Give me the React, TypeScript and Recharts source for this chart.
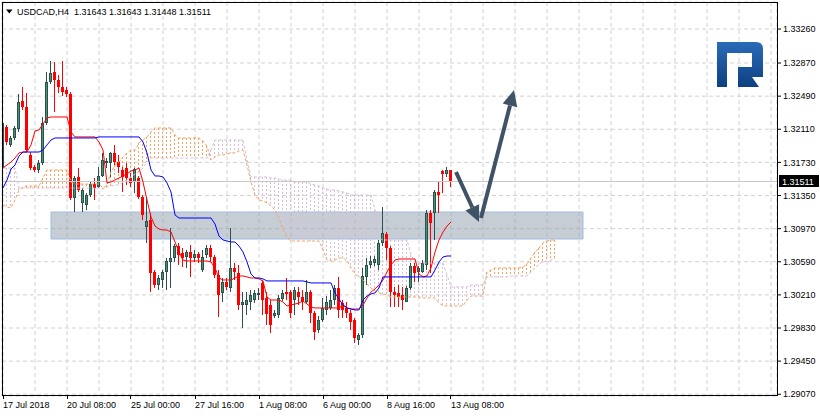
import React from "react";
import {
  ComposedChart,
  Bar,
  Line,
  XAxis,
  YAxis,
  CartesianGrid,
  ReferenceArea,
  ReferenceLine,
} from "recharts";

const symbol = "USDCAD,H4";

// bottom axis: one label every 16 H4 bars
const timeLabels = [
  "17 Jul 2018",
  "20 Jul 08:00",
  "25 Jul 00:00",
  "27 Jul 16:00",
  "1 Aug 08:00",
  "6 Aug 00:00",
  "8 Aug 16:00",
  "13 Aug 08:00",
];
const labelBars = [0, 16, 32, 48, 64, 80, 96, 112];

const priceTicks = [
  1.2907, 1.2945, 1.2983, 1.3021, 1.3059, 1.3097, 1.3135, 1.3173, 1.3211, 1.3249, 1.3287, 1.3326,
];

const open = [
  1.31665, 1.32136, 1.3193, 1.3201, 1.32113, 1.32435, 1.32366, 1.31815, 1.31677, 1.31643,
  1.31723, 1.32182, 1.32652, 1.32767, 1.32675, 1.32595, 1.32561, 1.32515, 1.31321, 1.31563,
  1.31265, 1.31242, 1.31356, 1.31482, 1.31448, 1.31574, 1.31723, 1.31723, 1.31838, 1.31734,
  1.31643, 1.31665, 1.31551, 1.31505, 1.31551, 1.31333, 1.30989, 1.31069, 1.30473, 1.30324,
  1.30381, 1.30473, 1.30587, 1.30633, 1.3077, 1.30691, 1.30645, 1.30702, 1.30633, 1.30679,
  1.30496, 1.30668, 1.30748, 1.30645, 1.30439, 1.30232, 1.30358, 1.30289, 1.30519, 1.30462,
  1.30094, 1.30094, 1.30128, 1.30151, 1.30209, 1.30347, 1.30174, 1.30094, 1.29968, 1.2998,
  1.30163, 1.30243, 1.30243, 1.30151, 1.30243, 1.30186, 1.30128, 1.30243, 1.30003, 1.29807,
  1.29922, 1.30037, 1.3006, 1.30151, 1.30289, 1.30117, 1.3006, 1.30003, 1.29922, 1.29693,
  1.2975, 1.30416, 1.30553, 1.30576, 1.30553, 1.30806, 1.30908, 1.30748, 1.30243, 1.30232,
  1.30209, 1.30128, 1.30289, 1.30542, 1.30473, 1.30473, 1.30553, 1.3115, 1.3115, 1.3139,
  1.31632, 1.31597, 1.31643,
];
const high = [
  1.32239, 1.32159, 1.32033, 1.32147, 1.32515, 1.32595, 1.32527, 1.31849, 1.317, 1.31757,
  1.32251, 1.32767, 1.32894, 1.32882, 1.32733, 1.32894, 1.32595, 1.32538, 1.31574, 1.31665,
  1.31436, 1.31379, 1.31517, 1.31551, 1.31677, 1.31838, 1.3178, 1.31849, 1.3193, 1.31815,
  1.31677, 1.31723, 1.31609, 1.31665, 1.31574, 1.31356, 1.31333, 1.3115, 1.30496, 1.30439,
  1.30496, 1.30633, 1.30977, 1.30794, 1.30806, 1.30748, 1.30725, 1.30783, 1.30725, 1.30702,
  1.30725, 1.30783, 1.30783, 1.30668, 1.30496, 1.30404, 1.30404, 1.30977, 1.30576, 1.30553,
  1.30243, 1.30243, 1.30266, 1.30266, 1.30289, 1.30381, 1.30243, 1.30151, 1.30037, 1.30209,
  1.30266, 1.30404, 1.30266, 1.30301, 1.30301, 1.30266, 1.30381, 1.30266, 1.30026, 1.29968,
  1.30174, 1.30197, 1.30266, 1.30324, 1.30416, 1.30151, 1.30128, 1.30037, 1.29945, 1.29773,
  1.30519, 1.30633, 1.30656, 1.30656, 1.3084, 1.31219, 1.30931, 1.3077, 1.30301, 1.30324,
  1.30301, 1.30312, 1.30576, 1.30576, 1.30542, 1.3061, 1.31184, 1.31184, 1.31413, 1.31505,
  1.31643, 1.31677, 1.31643,
];
const low = [
  1.3162, 1.3193, 1.31907, 1.31987, 1.32079, 1.32331, 1.31849, 1.31643, 1.3162, 1.31609,
  1.317, 1.32159, 1.32629, 1.32308, 1.32527, 1.32492, 1.3248, 1.31299, 1.31161, 1.3139,
  1.31161, 1.31184, 1.31333, 1.31299, 1.31436, 1.31563, 1.31665, 1.31563, 1.317, 1.31609,
  1.3139, 1.31471, 1.31448, 1.31379, 1.3131, 1.31069, 1.30806, 1.30243, 1.30289, 1.30266,
  1.30289, 1.30266, 1.30289, 1.30587, 1.30553, 1.3053, 1.30519, 1.30416, 1.30587, 1.30576,
  1.30473, 1.30633, 1.30587, 1.30404, 1.29957, 1.30128, 1.30266, 1.30243, 1.30381, 1.30037,
  1.2983, 1.2998, 1.30037, 1.30117, 1.30151, 1.2998, 1.29864, 1.29773, 1.29945, 1.29945,
  1.3014, 1.30151, 1.29945, 1.2998, 1.30094, 1.30037, 1.30105, 1.29887, 1.29693, 1.29773,
  1.29899, 1.2998, 1.30037, 1.30094, 1.29945, 1.29945, 1.29945, 1.29807, 1.29658, 1.29635,
  1.29716, 1.30324, 1.30519, 1.30542, 1.30496, 1.3077, 1.3061, 1.30071, 1.30071, 1.30071,
  1.30037, 1.30128, 1.30266, 1.30358, 1.30358, 1.30462, 1.30496, 1.30462, 1.3084, 1.3115,
  1.31379, 1.31563, 1.31448,
];
const close = [
  1.32182, 1.31964, 1.3201, 1.32124, 1.32423, 1.32366, 1.31872, 1.31665, 1.31643, 1.31723,
  1.32182, 1.32652, 1.32756, 1.32675, 1.32595, 1.32538, 1.32515, 1.31321, 1.31551, 1.31413,
  1.31413, 1.31356, 1.31482, 1.31436, 1.31574, 1.31757, 1.31746, 1.31838, 1.31734, 1.31677,
  1.31563, 1.31551, 1.31494, 1.31654, 1.31333, 1.31127, 1.31058, 1.30462, 1.30324, 1.30404,
  1.30473, 1.30599, 1.30633, 1.3077, 1.30668, 1.30633, 1.30702, 1.30633, 1.30679, 1.30633,
  1.30645, 1.30748, 1.30645, 1.30439, 1.30209, 1.30358, 1.30301, 1.30519, 1.30473, 1.30094,
  1.30128, 1.30151, 1.30209, 1.30232, 1.30232, 1.30151, 1.29991, 1.29864, 1.30003, 1.30174,
  1.30232, 1.3022, 1.30003, 1.30266, 1.30186, 1.30128, 1.30243, 1.30003, 1.29784, 1.29922,
  1.3006, 1.30128, 1.30151, 1.30289, 1.30037, 1.30037, 1.30003, 1.29899, 1.29716, 1.2975,
  1.30427, 1.30553, 1.30599, 1.30622, 1.30806, 1.3092, 1.30748, 1.30243, 1.30209, 1.30186,
  1.30151, 1.30289, 1.30542, 1.30462, 1.30519, 1.30576, 1.3115, 1.31035, 1.3139, 1.31356,
  1.31597, 1.31643, 1.31511,
];

// Ichimoku: tenkan (red), kijun (blue)
const tenkan = [
  1.31665, 1.317, 1.31734, 1.3178, 1.31838, 1.31849, 1.31849, 1.3193, 1.3209, 1.32102,
  1.3217, 1.32239, 1.32251, 1.32251, 1.32251, 1.32251, 1.32251, 1.32079, 1.32022, 1.32022,
  1.32022, 1.32022, 1.32022, 1.32022, 1.31964, 1.31872, 1.31494, 1.31505, 1.31528, 1.31551,
  1.31574, 1.31597, 1.31632, 1.31643, 1.31665, 1.31505, 1.31299, 1.31104, 1.31, 1.30966,
  1.30954, 1.30954, 1.30931, 1.30817, 1.30702, 1.3061, 1.30599, 1.30599, 1.30599, 1.30599,
  1.30599, 1.30599, 1.30587, 1.30519, 1.30404, 1.30381, 1.30381, 1.30381, 1.30404, 1.30427,
  1.30427, 1.30416, 1.30404, 1.30404, 1.30393, 1.3037, 1.30186, 1.30151, 1.30151, 1.30151,
  1.30128, 1.30083, 1.30094, 1.30105, 1.30117, 1.3014, 1.30105, 1.30071, 1.3006, 1.3006,
  1.3006, 1.3006, 1.3006, 1.3006, 1.3006, 1.30094, 1.3006, 1.30048, 1.30048, 1.30048,
  1.30094, 1.30174, 1.30243, 1.30278, 1.30324, 1.30381, 1.30473, 1.30553, 1.3061, 1.30622,
  1.30622, 1.30622, 1.30622, 1.30622, 1.3045, 1.30416, 1.30427, 1.30519, 1.30702, 1.3084,
  1.30931, 1.31, 1.31046,
];
const kijun = [
  1.31436, 1.31528, 1.31654, 1.317, 1.31803, 1.31849, 1.31849, 1.31849, 1.31849, 1.31849,
  1.31872, 1.3193, 1.31987, 1.3201, 1.3201, 1.3201, 1.3201, 1.3201, 1.3201, 1.3201,
  1.3201, 1.3201, 1.3201, 1.3201, 1.32022, 1.32022, 1.32022, 1.32022, 1.32022, 1.32022,
  1.32022, 1.32022, 1.32022, 1.32022, 1.32022, 1.31964, 1.31838, 1.31643, 1.31574, 1.31574,
  1.31563, 1.31494, 1.3139, 1.31127, 1.31092, 1.31092, 1.31092, 1.31092, 1.31092, 1.31092,
  1.31092, 1.31092, 1.31092, 1.31023, 1.30885, 1.3084, 1.30828, 1.30817, 1.30817, 1.3077,
  1.30702, 1.30587, 1.3045, 1.30404, 1.30404, 1.30393, 1.3037, 1.3037, 1.3037, 1.3037,
  1.3037, 1.3037, 1.3037, 1.3037, 1.3037, 1.3037, 1.30358, 1.30347, 1.30347, 1.30347,
  1.30347, 1.30347, 1.30347, 1.30232, 1.30163, 1.30094, 1.3006, 1.30048, 1.30037, 1.30037,
  1.30151, 1.30197, 1.3022, 1.30232, 1.30289, 1.30416, 1.30416, 1.30416, 1.30416, 1.30416,
  1.30416, 1.30416, 1.30416, 1.30416, 1.30416, 1.30416, 1.30416, 1.30416, 1.30496, 1.30587,
  1.30645, 1.30656, 1.30656,
];
// senkou spans, shifted 26 bars ahead (139 positions)
const spanA = [
  1.31242, 1.31219, 1.31207, 1.31299, 1.31413, 1.31448, 1.31459, 1.31459, 1.31459, 1.31459,
  1.31551, 1.31643, 1.31643, 1.31643, 1.31643, 1.31643, 1.31643, 1.31505, 1.31482, 1.31482,
  1.31482, 1.31482, 1.31482, 1.31482, 1.31482, 1.31436, 1.31471, 1.3162, 1.317, 1.31734,
  1.31792, 1.31838, 1.31872, 1.31872, 1.31953, 1.31987, 1.32022, 1.32079, 1.32125, 1.32125,
  1.32125, 1.32125, 1.32125, 1.32045, 1.3201, 1.3201, 1.3201, 1.3201, 1.3201, 1.3201,
  1.31976, 1.31918, 1.31757, 1.31792, 1.31815, 1.31815, 1.31826, 1.31838, 1.31838, 1.31861,
  1.31872, 1.317, 1.31505, 1.31356, 1.31299, 1.31287, 1.31265, 1.3123, 1.31184, 1.31092,
  1.30954, 1.30874, 1.30828, 1.30828, 1.30828, 1.30828, 1.30828, 1.30828, 1.30828, 1.30828,
  1.30725, 1.3061, 1.30599, 1.3061, 1.30633, 1.30633, 1.30599, 1.30519, 1.3045, 1.30416,
  1.30381, 1.30335, 1.30289, 1.30255, 1.30232, 1.3022, 1.30209, 1.30186, 1.30186, 1.30186,
  1.30186, 1.30186, 1.30186, 1.30186, 1.30186, 1.30174, 1.30174, 1.30174, 1.30174, 1.30117,
  1.30083, 1.30083, 1.30083, 1.30083, 1.30083, 1.30083, 1.30151, 1.30197, 1.30197, 1.30197,
  1.30197, 1.30473, 1.30496, 1.30519, 1.30519, 1.30519, 1.30519, 1.30519, 1.30519, 1.30519,
  1.3053, 1.30565, 1.30633, 1.30702, 1.30748, 1.30806, 1.30828, 1.3084, 1.3084,
];
const spanB = [
  1.31665, 1.31665, 1.31665, 1.31665, 1.31436, 1.31436, 1.31436, 1.31436, 1.31436, 1.31436,
  1.31436, 1.31436, 1.31436, 1.31436, 1.31436, 1.31436, 1.31436, 1.31436, 1.31436, 1.31436,
  1.31436, 1.31436, 1.31436, 1.31436, 1.31436, 1.31425, 1.31448, 1.31459, 1.31471, 1.31471,
  1.31505, 1.31528, 1.31563, 1.31597, 1.3162, 1.31665, 1.31734, 1.3178, 1.3178, 1.3178,
  1.3178, 1.3178, 1.3178, 1.3178, 1.3178, 1.3178, 1.3178, 1.3178, 1.3178, 1.3178,
  1.3178, 1.3178, 1.31872, 1.31987, 1.31987, 1.31987, 1.31987, 1.31987, 1.31987, 1.31987,
  1.31987, 1.31757, 1.31563, 1.31563, 1.31563, 1.31563, 1.31563, 1.31551, 1.31551, 1.3154,
  1.31528, 1.31528, 1.31528, 1.31505, 1.31505, 1.31505, 1.31505, 1.31482, 1.31471, 1.31459,
  1.31436, 1.31425, 1.31413, 1.31413, 1.31402, 1.3139, 1.31379, 1.31356, 1.31356, 1.31356,
  1.31356, 1.31356, 1.31356, 1.31184, 1.30863, 1.3084, 1.3084, 1.3084, 1.3084, 1.3084,
  1.3084, 1.3084, 1.30668, 1.30576, 1.30576, 1.30576, 1.30576, 1.30576, 1.30576, 1.30576,
  1.30576, 1.30439, 1.30301, 1.30301, 1.30301, 1.30301, 1.30301, 1.30324, 1.30324, 1.30324,
  1.30324, 1.30416, 1.30416, 1.30416, 1.30416, 1.30416, 1.30416, 1.30427, 1.30427, 1.30427,
  1.30427, 1.30427, 1.30473, 1.30519, 1.30565, 1.30587, 1.30599, 1.3061, 1.30633,
];

// drawn objects: support zone and the two arrows (bar index, price)
const zone = { fromBar: 12, toBar: 145, low: 1.30851, high: 1.31161 };
const arrows = [
  { x1: 113.25, y1: 1.3162, x2: 119, y2: 1.31046 },
  { x1: 119.5, y1: 1.31092, x2: 127.75, y2: 1.32561 },
];

const X_DOMAIN: [number, number] = [-0.25, 193.5];
const Y_DOMAIN: [number, number] = [1.2905, 1.3357];
const gridBars = Array.from({ length: 25 }, (_, k) => k * 8);
const FONT = "'Liberation Sans', Arial, sans-serif";

const Candle = (props: any) => {
  const { x, y, width, height, payload } = props;
  if (!payload || payload.o == null || !(height > 0)) return <g />;
  const { o, h, l, c } = payload;
  const k = height / (h - l);
  const cx = Math.floor(x + width / 2) + 0.5;
  const yO = y + (h - o) * k;
  const yC = y + (h - c) * k;
  const top = Math.round(Math.min(yO, yC));
  const bot = Math.max(Math.round(Math.max(yO, yC)), top + 1);
  const up = c >= o;
  return (
    <g shapeRendering="crispEdges">
      <line x1={cx} x2={cx} y1={Math.round(y)} y2={Math.round(y + height)} stroke={up ? "#2F4F4F" : "#FF0000"} />
      {up ? (
        <rect x={cx - 1} y={top + 0.5} width={2} height={bot - top - 1 > 0 ? bot - top - 1 : 0.01} fill="#3E9A6C" stroke="#2F4F4F" />
      ) : (
        <rect x={cx - 1.5} y={top} width={3} height={bot - top} fill="#FF0000" />
      )}
    </g>
  );
};

const Hatch = (props: any) => {
  const { x, y, width, height, payload } = props;
  if (!payload || !(height > 0)) return <g />;
  const cx = Math.floor(x + width / 2) + 0.5;
  const color = payload.spanA >= payload.spanB ? "#F4A460" : "#D8BFD8";
  return <line x1={cx} x2={cx} y1={y} y2={y + height} stroke={color} strokeDasharray="2 2" shapeRendering="crispEdges" />;
};

const TimeTick = (props: any) => {
  const { x, y, payload } = props;
  const idx = labelBars.indexOf(payload.value);
  if (idx < 0) return <g />;
  const px = Math.floor(x) + 0.5;
  return (
    <g>
      <line x1={px} x2={px} y1={y} y2={y + 3} stroke="#000" shapeRendering="crispEdges" />
      <text x={x} y={y + 12} fontSize={9} fontFamily={FONT} fill="#000" textAnchor="start">
        {timeLabels[idx]}
      </text>
    </g>
  );
};

const PriceTag = (props: any) => {
  const vb = props.viewBox || {};
  const x = vb.x + vb.width + 2;
  const y = Math.round(vb.y);
  return (
    <g>
      <rect x={x} y={y - 6} width={40} height={12} fill="#000" />
      <text x={x + 3} y={y + 3.5} fontSize={9} fontFamily={FONT} fill="#fff">
        {props.price.toFixed(5)}
      </text>
    </g>
  );
};

const Arrow = (p: any) => {
  const { x1, y1, x2, y2 } = p;
  const ang = Math.atan2(y2 - y1, x2 - x1);
  const len = 16;
  const half = 7.5;
  const bx = x2 - len * Math.cos(ang);
  const by = y2 - len * Math.sin(ang);
  const nx = -Math.sin(ang);
  const ny = Math.cos(ang);
  const pts = `${x2},${y2} ${bx + nx * half},${by + ny * half} ${bx - nx * half},${by - ny * half}`;
  return (
    <g>
      <line x1={x1} y1={y1} x2={bx} y2={by} stroke="#3F5266" strokeWidth={4} />
      <polygon points={pts} fill="#3F5266" />
    </g>
  );
};

export default function App() {
  const rows = spanA.map((a, i) => ({
    i,
    o: open[i] ?? null,
    h: high[i] ?? null,
    l: low[i] ?? null,
    c: close[i] ?? null,
    tenkan: tenkan[i] ?? null,
    kijun: kijun[i] ?? null,
    spanA: a,
    spanB: spanB[i],
  }));
  const last = close.length - 1;
  const title = `${symbol}  ${open[last].toFixed(5)} ${high[last].toFixed(5)} ${low[last].toFixed(5)} ${close[last].toFixed(5)}`;

  return (
    <div style={{ position: "absolute", left: 0, top: 0, width: 820, height: 416, background: "#fff", fontFamily: FONT }}>
      <ComposedChart width={820} height={416} data={rows} margin={{ top: 2, right: 2, bottom: 2, left: 2 }}>
        <CartesianGrid stroke="#D2D2D2" strokeDasharray="4 3" />
        <XAxis
          dataKey="i"
          type="number"
          domain={X_DOMAIN}
          allowDataOverflow
          ticks={gridBars}
          interval={0}
          tick={TimeTick}
          tickLine={false}
          axisLine={false}
          tickSize={0}
          tickMargin={0}
          height={18}
        />
        <XAxis xAxisId="cloud" dataKey="i" type="number" domain={X_DOMAIN} allowDataOverflow hide />
        <YAxis
          orientation="right"
          type="number"
          domain={Y_DOMAIN}
          allowDataOverflow
          ticks={priceTicks}
          interval={0}
          tickFormatter={(v: number) => v.toFixed(5)}
          width={41}
          tickSize={4}
          tickMargin={2}
          axisLine={false}
          tickLine={{ stroke: "#000" }}
          tick={{ fontSize: 9, fill: "#000", fontFamily: FONT }}
        />
        <Bar
          xAxisId="cloud"
          dataKey={(r: any) => [Math.min(r.spanA, r.spanB), Math.max(r.spanA, r.spanB)]}
          barSize={1}
          shape={Hatch}
          isAnimationActive={false}
        />
        <Line dataKey="spanA" stroke="#F4A460" strokeDasharray="3 2" dot={false} activeDot={false} isAnimationActive={false} />
        <Line dataKey="spanB" stroke="#D8BFD8" strokeDasharray="3 2" dot={false} activeDot={false} isAnimationActive={false} />
        <ReferenceLine y={close[last]} stroke="#C8C8C8" label={<PriceTag price={close[last]} />} />
        <Bar dataKey={(r: any) => (r.o == null ? null : [r.l, r.h])} barSize={3} shape={Candle} isAnimationActive={false} />
        <Line dataKey="tenkan" stroke="#FF0000" strokeWidth={1} dot={false} activeDot={false} isAnimationActive={false} />
        <Line dataKey="kijun" stroke="#0000FF" strokeWidth={1} dot={false} activeDot={false} isAnimationActive={false} />
        <ReferenceArea
          x1={zone.fromBar}
          x2={zone.toBar}
          y1={zone.low}
          y2={zone.high}
          fill="#8E9BAA"
          fillOpacity={0.5}
          stroke="#9FBDE6"
          strokeWidth={1}
        />
        {arrows.map((a, k) => (
          <ReferenceLine
            key={k}
            segment={[
              { x: a.x1, y: a.y1 },
              { x: a.x2, y: a.y2 },
            ]}
            shape={Arrow}
          />
        ))}
      </ComposedChart>
      <svg width={820} height={416} style={{ position: "absolute", left: 0, top: 0, pointerEvents: "none" }}>
        <defs>
          <linearGradient id="logoGrad" x1="0" y1="0" x2="0" y2="1">
            <stop offset="0%" stopColor="#2A6CB8" />
            <stop offset="100%" stopColor="#0E3F80" />
          </linearGradient>
        </defs>
        <rect x={2.5} y={2.5} width={775} height={393} fill="none" stroke="#000" shapeRendering="crispEdges" />
        <polygon points="6,9.5 12.5,9.5 9.25,13.5" fill="#000" />
        <text x={17} y={15} fontSize={9} fontFamily={FONT} fill="#000" style={{ whiteSpace: "pre" }}>
          {title}
        </text>
        <path
          d="M717,42 H756 Q763,42 763,49 V77 H752 L759,87 H738 V67 H752 V53 H727 V87 H717 Z"
          fill="url(#logoGrad)"
        />
      </svg>
    </div>
  );
}
